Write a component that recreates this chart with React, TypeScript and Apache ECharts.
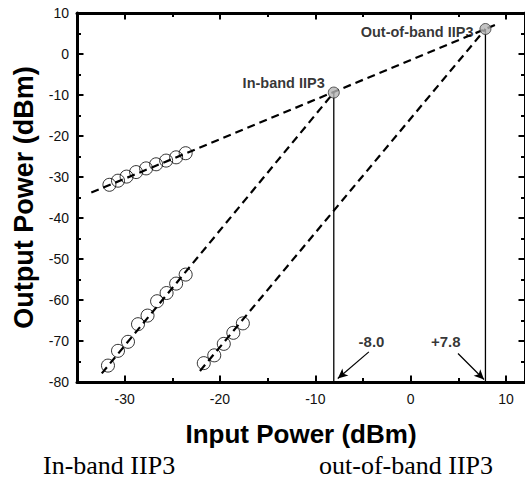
import React, { useEffect, useRef } from "react";
import * as echarts from "echarts";

// ---- Data ----
const fundX = [-31.6, -30.7, -29.8, -28.8, -27.75, -26.7, -25.65, -24.6, -23.6];
const fundY = [-31.9, -30.9, -29.9, -28.8, -27.9, -26.9, -26.0, -25.2, -24.2];

const im3InX = [-31.75, -30.7, -29.65, -28.6, -27.6, -26.6, -25.6, -24.6, -23.6];
const im3InY = [-76.0, -72.4, -70.2, -65.9, -63.8, -60.3, -58.3, -56.0, -53.8];

const im3OutX = [-21.7, -20.6, -19.6, -18.6, -17.6];
const im3OutY = [-75.4, -73.5, -70.7, -68.0, -65.7];

const fundFit = [[-33.5, -33.8], [9.2, 7.4]];
const im3InFit = [[-32.4, -77.9], [-8.06, -9.4]];
const im3OutFit = [[-22.1, -77.3], [7.85, 6.1]];

const iip3InBand = [-8.06, -9.4];
const iip3OutBand = [7.85, 6.1];
const iip3Names = ["In-band IIP3", "Out-of-band IIP3"];

const iip3Values = ["-8.0", "+7.8"];
const iip3ValuePos = [[-4.1, -70], [3.68, -70]];
const arrowInBand = [[-4.38, -72.66], [-7.64, -79.15]];
const arrowOutBand = [[4.97, -73.05], [7.7, -79.4]];

const xMajorTicks = [-30, -20, -10, 0, 10];
const xMinorTicks = [-25, -15, -5, 5];
const xRange = [-35, 12];
const yRange = [-80, 10];

const captions = ["In-band IIP3", "out-of-band IIP3"];

const SANS = '"Liberation Sans", Arial, Helvetica, sans-serif';
const SERIF = '"Liberation Serif", "Times New Roman", serif';

export default function App() {
  const ref = useRef<HTMLDivElement>(null);

  useEffect(() => {
    if (!ref.current) return;
    const chart = echarts.init(ref.current, undefined, { renderer: "svg" });

    const zip = (xs: number[], ys: number[]) => xs.map((x, i) => [x, ys[i]]);

    const baseX = {
      type: "value" as const,
      min: xRange[0],
      max: xRange[1],
      splitLine: { show: false },
    };
    const axisLineStyle = { show: true, onZero: false, lineStyle: { color: "#000", width: 3 } };
    const noLine = { show: false, onZero: false };

    const xAxes = [
      {
        ...baseX,
        position: "bottom",
        axisLine: axisLineStyle,
        axisTick: { show: true, inside: true, length: 6.5, customValues: xMajorTicks, lineStyle: { color: "#000", width: 2 } },
        axisLabel: { show: true, customValues: xMajorTicks, fontSize: 14, color: "#111", margin: 10, fontFamily: SANS },
        name: "Input Power (dBm)",
        nameLocation: "middle",
        nameGap: 39,
        nameTextStyle: { fontSize: 26, fontWeight: "bold", color: "#000", fontFamily: SANS },
      },
      {
        ...baseX,
        position: "bottom",
        axisLine: noLine,
        axisTick: { show: true, inside: true, length: 4, customValues: xMinorTicks, lineStyle: { color: "#000", width: 2 } },
        axisLabel: { show: false },
      },
      {
        ...baseX,
        position: "top",
        axisLine: axisLineStyle,
        axisTick: { show: true, inside: true, length: 6.5, customValues: xMajorTicks, lineStyle: { color: "#000", width: 2 } },
        axisLabel: { show: false },
      },
      {
        ...baseX,
        position: "top",
        axisLine: noLine,
        axisTick: { show: true, inside: true, length: 4, customValues: xMinorTicks, lineStyle: { color: "#000", width: 2 } },
        axisLabel: { show: false },
      },
    ];

    const baseY = {
      type: "value" as const,
      min: yRange[0],
      max: yRange[1],
      interval: 10,
      splitLine: { show: false },
      minorSplitLine: { show: false },
      axisLine: axisLineStyle,
      axisTick: { show: true, inside: true, length: 6.5, lineStyle: { color: "#000", width: 2 } },
      minorTick: { show: true, splitNumber: 2, length: 4, lineStyle: { color: "#000", width: 2 } },
    };

    const yAxes = [
      {
        ...baseY,
        position: "left",
        axisLabel: { show: true, fontSize: 14, color: "#111", margin: 8, fontFamily: SANS },
        name: "Output Power (dBm)",
        nameLocation: "middle",
        nameGap: 40,
        nameTextStyle: { fontSize: 27, fontWeight: "bold", color: "#000", fontFamily: SANS },
      },
      {
        ...baseY,
        position: "right",
        axisLabel: { show: false },
      },
    ];

    const dashed = { color: "#000", width: 2.2, type: [8, 5] as number[] };
    const hollow = {
      type: "scatter" as const,
      symbol: "circle",
      symbolSize: 13,
      itemStyle: { color: "transparent", borderColor: "#000", borderWidth: 1 },
      z: 4,
    };

    const option = {
      animation: false,
      backgroundColor: "#fff",
      grid: { left: 77, top: 13, width: 448, height: 369 },
      xAxis: xAxes,
      yAxis: yAxes,
      series: [
        { type: "line", data: fundFit, symbol: "none", lineStyle: dashed, z: 3 },
        { type: "line", data: im3InFit, symbol: "none", lineStyle: dashed, z: 3 },
        { type: "line", data: im3OutFit, symbol: "none", lineStyle: dashed, z: 3 },
        { ...hollow, data: zip(fundX, fundY) },
        { ...hollow, data: zip(im3InX, im3InY) },
        { ...hollow, data: zip(im3OutX, im3OutY) },
        {
          type: "line",
          data: [iip3InBand, [iip3InBand[0], yRange[0]]],
          symbol: "none",
          lineStyle: { color: "#000", width: 1.3 },
          z: 2,
        },
        {
          type: "line",
          data: [iip3OutBand, [iip3OutBand[0], yRange[0]]],
          symbol: "none",
          lineStyle: { color: "#000", width: 1.3 },
          z: 2,
        },
        {
          type: "scatter",
          symbol: "circle",
          symbolSize: 11,
          itemStyle: { color: "#b4b4b4", borderColor: "#333", borderWidth: 1 },
          z: 5,
          data: [
            {
              value: iip3InBand,
              name: iip3Names[0],
              label: { show: true, position: "left", distance: 3, offset: [0, -10] },
            },
            {
              value: iip3OutBand,
              name: iip3Names[1],
              label: { show: true, position: "left", distance: 6, offset: [0, 3] },
            },
          ],
          label: {
            formatter: (p: any) => p.name,
            fontSize: 14.5,
            fontWeight: "bold",
            color: "#000",
            fontFamily: SANS,
          },
        },
        {
          type: "scatter",
          symbolSize: 0,
          silent: true,
          data: iip3ValuePos.map((v, i) => ({ value: v, name: iip3Values[i] })),
          label: {
            show: true,
            position: "inside",
            formatter: (p: any) => p.name,
            fontSize: 15,
            fontWeight: "bold",
            color: "#000",
            fontFamily: SANS,
          },
          markLine: {
            silent: true,
            symbol: ["none", "arrow"],
            symbolSize: [7, 10],
            label: { show: false },
            lineStyle: { color: "#000", width: 1.2, type: "solid" },
            data: [
              [{ coord: arrowInBand[0] }, { coord: arrowInBand[1] }],
              [{ coord: arrowOutBand[0] }, { coord: arrowOutBand[1] }],
            ],
          },
        },
      ],
      graphic: [
        {
          type: "text",
          left: 43,
          top: 452,
          style: { text: captions[0], font: `26px ${SERIF}`, fill: "#000" },
        },
        {
          type: "text",
          left: 319,
          top: 452,
          style: { text: captions[1], font: `26px ${SERIF}`, fill: "#000" },
        },
      ],
    };

    chart.setOption(option as any);
    return () => chart.dispose();
  }, []);

  return (
    <div
      ref={ref}
      style={{ position: "fixed", left: 0, top: 0, width: 525, height: 482 }}
    />
  );
}
